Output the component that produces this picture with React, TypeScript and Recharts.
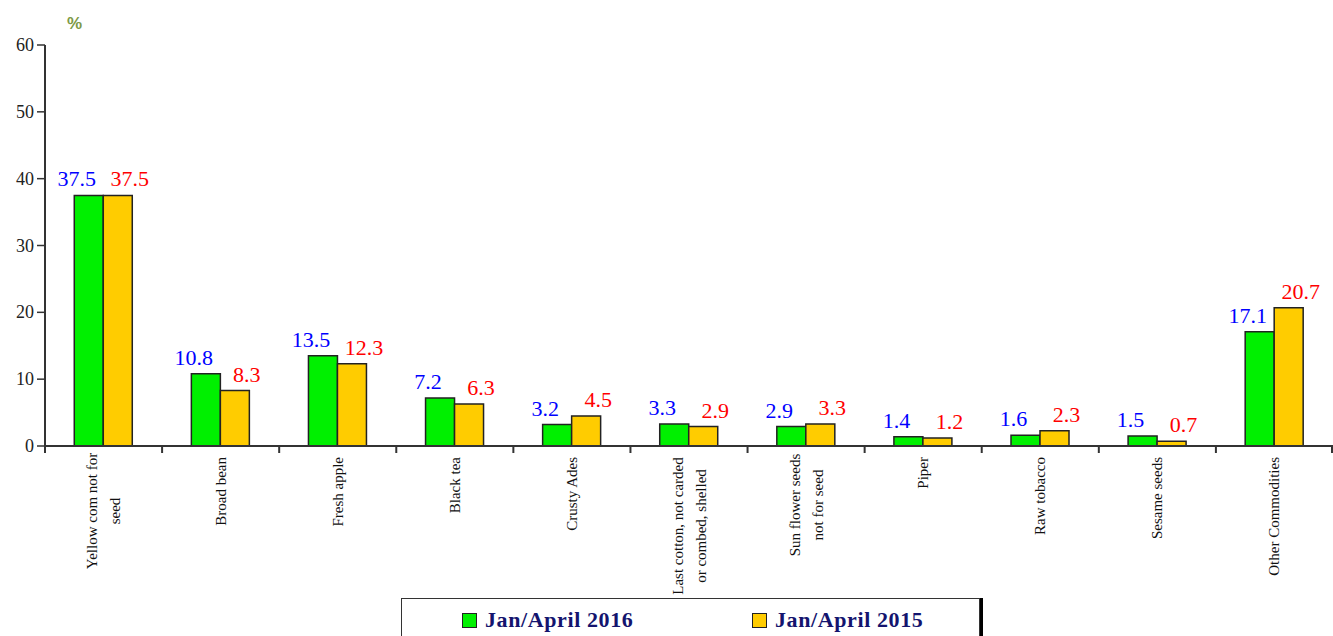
import React from 'react';
import { BarChart, Bar, XAxis, YAxis, LabelList } from 'recharts';

const categories = [
  ['Yellow com not for', 'seed'],
  ['Broad bean'],
  ['Fresh apple'],
  ['Black tea'],
  ['Crusty Ades'],
  ['Last cotton, not carded', 'or combed, shelled'],
  ['Sun flower seeds', 'not for seed'],
  ['Piper'],
  ['Raw tobacco'],
  ['Sesame seeds'],
  ['Other Commodities'],
];
const jan2016 = [37.5, 10.8, 13.5, 7.2, 3.2, 3.3, 2.9, 1.4, 1.6, 1.5, 17.1];
const jan2015 = [37.5, 8.3, 12.3, 6.3, 4.5, 2.9, 3.3, 1.2, 2.3, 0.7, 20.7];
const yTicks = [0, 10, 20, 30, 40, 50, 60];

const data = categories.map((c, i) => ({
  name: c.join('|'),
  y2016: jan2016[i],
  y2015: jan2015[i],
}));

const SERIF = '"Liberation Serif", "Times New Roman", serif';
const W = 1333;
const H = 636;
const LEFT = 45;
const BAND = (W - LEFT) / categories.length;
const CHAR_W = 6.0; // rough average glyph width at 15px

const CategoryTick = (props: any) => {
  const { x, y, payload, index } = props;
  const lines: string[] = String(payload.value).split('|');
  const lh = 23;
  const x0 = x - ((lines.length - 1) * lh) / 2;
  const longest = Math.max(...lines.map((l) => l.length));
  const cy = y + 3 + (longest * CHAR_W) / 2;
  return (
    <g>
      <line x1={x - BAND / 2} y1={y - 8} x2={x - BAND / 2} y2={y - 1} stroke="#333" strokeWidth={2} />
      {index === categories.length - 1 && (
        <line x1={x + BAND / 2 - 1} y1={y - 8} x2={x + BAND / 2 - 1} y2={y - 1} stroke="#333" strokeWidth={2} />
      )}
      {lines.map((l, i) => (
        <text
          key={i}
          x={0}
          y={0}
          transform={
            lines.length > 1
              ? `translate(${x0 + i * lh + 5}, ${cy}) rotate(-90)`
              : `translate(${x0 + 5}, ${y + 3}) rotate(-90)`
          }
          textAnchor={lines.length > 1 ? 'middle' : 'end'}
          fontFamily={SERIF}
          fontSize={15}
          fill="#111"
        >
          {l}
        </text>
      ))}
    </g>
  );
};

const ValueTick = (props: any) => {
  const { x, y, payload } = props;
  return (
    <text x={x} y={y} dy={6} textAnchor="end" fontFamily={SERIF} fontSize={18} fill="#222">
      {payload.value}
    </text>
  );
};

const makeLabel = (color: string, dx: number) => (props: any) => {
  const { x, y, width, value } = props;
  return (
    <text
      x={x + width / 2 + dx}
      y={y - 9}
      textAnchor="middle"
      fontFamily={SERIF}
      fontSize={22}
      fill={color}
    >
      {value}
    </text>
  );
};

const LegendBox = () => (
  <div
    style={{
      position: 'absolute',
      left: 401,
      top: 598,
      width: 577,
      height: 44,
      border: '1.5px solid #333',
      boxShadow: '3px 0 0 #000',
      background: '#fff',
      fontFamily: SERIF,
      fontWeight: 'bold',
      fontSize: 22,
      letterSpacing: 0.6,
      color: '#14146e',
    }}
  >
    <div style={{ position: 'absolute', left: 60, top: 8, display: 'flex', alignItems: 'center' }}>
      <span style={{ width: 13, height: 13, background: '#00f000', border: '1.5px solid #222', marginRight: 8 }} />
      <span>Jan/April 2016</span>
    </div>
    <div style={{ position: 'absolute', left: 350, top: 8, display: 'flex', alignItems: 'center' }}>
      <span style={{ width: 13, height: 13, background: '#ffcc00', border: '1.5px solid #222', marginRight: 8 }} />
      <span>Jan/April 2015</span>
    </div>
  </div>
);

export default function App() {
  return (
    <div style={{ position: 'absolute', left: 0, top: 0, width: W, height: H, background: '#fff', overflow: 'hidden' }}>
      <BarChart
        width={W}
        height={H}
        data={data}
        margin={{ top: 45, right: 0, left: 0, bottom: 0 }}
        barCategoryGap="25%"
        barGap={0}
      >
        <text x={67} y={29} fontFamily='"Liberation Sans", Arial, sans-serif' fontSize={17} fontWeight="bold" fill="#7d9a45">
          %
        </text>
        <XAxis
          dataKey="name"
          height={190}
          interval={0}
          tick={<CategoryTick />}
          tickLine={false}
          axisLine={{ stroke: '#333', strokeWidth: 2 }}
        />
        <YAxis
          width={LEFT}
          domain={[0, 60]}
          ticks={yTicks}
          interval={0}
          tickSize={8}
          tickMargin={3}
          axisLine={{ stroke: '#333', strokeWidth: 2 }}
          tickLine={{ stroke: '#333', strokeWidth: 1.5 }}
          tick={<ValueTick />}
        />
        <Bar dataKey="y2016" fill="#00f000" stroke="#222" strokeWidth={1.5} isAnimationActive={false}>
          <LabelList dataKey="y2016" content={makeLabel('#0000ff', -12)} />
        </Bar>
        <Bar dataKey="y2015" fill="#ffcc00" stroke="#222" strokeWidth={1.5} isAnimationActive={false}>
          <LabelList dataKey="y2015" content={makeLabel('#ff0000', 12)} />
        </Bar>
      </BarChart>
      <LegendBox />
    </div>
  );
}
